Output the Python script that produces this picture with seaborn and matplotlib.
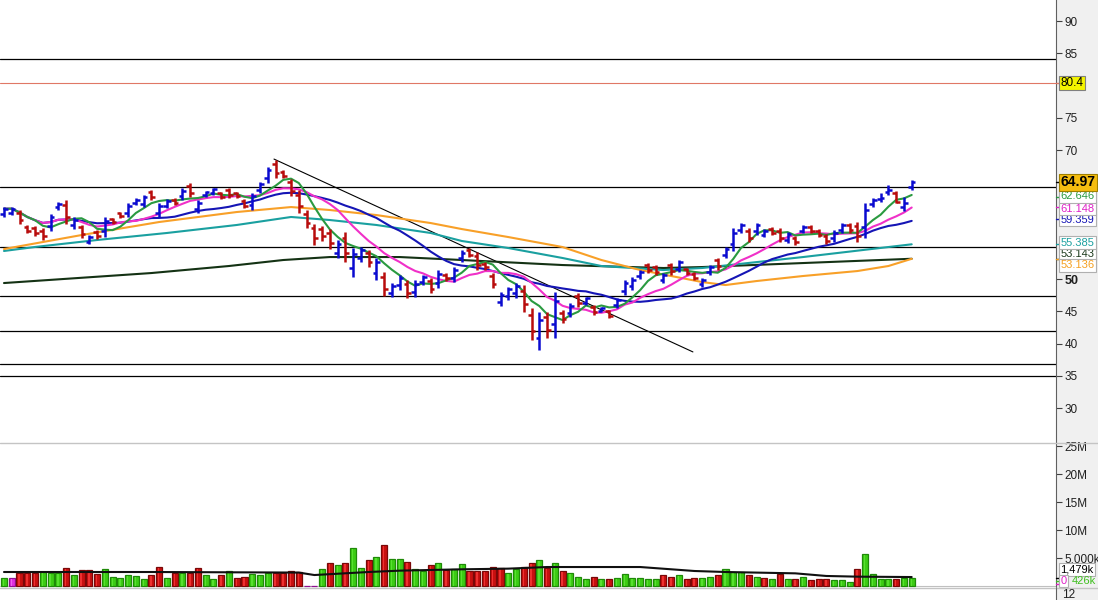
import numpy as np
import pandas as pd
import matplotlib
matplotlib.use("Agg")
import matplotlib.pyplot as plt
import seaborn as sns
from matplotlib.patches import Rectangle
from matplotlib.lines import Line2D

sns.set_style("white")
plt.rcParams['font.family'] = ['Liberation Sans', 'DejaVu Sans']

# ---------------- data ----------------
highs = [61.17, 61.17, 60.70, 58.38, 58.22, 57.91, 60.08, 61.94, 62.25, 59.62,
         58.38, 56.83, 57.60, 59.62, 59.46, 60.39, 61.79, 62.56, 63.03, 63.80,
         61.79, 62.41, 62.56, 64.11, 64.89, 62.25, 63.65, 64.11, 63.49, 64.11,
         63.49, 62.41, 63.34, 65.04, 67.37, 68.45, 66.90, 65.51, 63.80, 60.70,
         58.53, 58.22, 57.76, 56.05, 57.29, 54.81, 54.97, 54.50, 53.26, 51.09,
         49.38, 50.62, 49.85, 49.85, 50.62, 50.16, 51.40, 50.93, 51.86, 54.50,
         54.81, 54.19, 52.64, 50.93, 47.99, 48.76, 49.38, 49.07, 45.51, 44.89,
         44.89, 47.99, 45.20, 46.28, 47.83, 47.21, 45.97, 45.66, 45.20, 47.06,
         49.85, 50.31, 51.40, 52.48, 52.17, 50.93, 52.48, 52.95, 51.71, 51.09,
         50.16, 52.17, 53.26, 54.97, 57.91, 58.69, 57.91, 58.69, 57.76, 58.07,
         57.91, 57.29, 56.67, 58.38, 58.38, 57.76, 56.98, 57.60, 58.69, 58.69,
         58.84, 61.79, 62.56, 63.34, 64.58, 63.65, 62.72, 65.35]
lows = [59.62, 59.93, 58.53, 57.14, 56.67, 56.05, 57.45, 60.70, 58.53, 57.76,
        56.36, 55.43, 56.21, 56.52, 58.53, 59.46, 59.62, 61.48, 61.17, 62.25,
        59.62, 61.01, 61.48, 62.25, 62.72, 60.24, 62.72, 63.03, 62.41, 62.56,
        62.56, 61.01, 60.70, 63.34, 64.89, 65.66, 65.66, 62.87, 60.24, 57.91,
        55.28, 55.90, 54.66, 53.26, 52.64, 50.31, 52.64, 51.86, 49.85, 47.37,
        47.21, 48.30, 47.06, 47.21, 49.07, 47.83, 48.61, 49.69, 49.54, 52.64,
        53.41, 51.40, 51.40, 48.61, 45.82, 46.75, 47.06, 44.89, 40.55, 39.00,
        40.86, 40.86, 43.18, 44.11, 45.66, 45.97, 44.42, 44.89, 43.96, 45.51,
        47.52, 48.30, 50.00, 50.93, 50.62, 49.38, 50.62, 51.09, 50.62, 49.85,
        48.76, 50.62, 51.40, 53.26, 54.35, 57.14, 55.74, 56.83, 56.52, 56.83,
        55.74, 55.59, 55.28, 57.14, 57.14, 56.52, 55.43, 55.74, 57.14, 57.14,
        55.74, 56.36, 61.17, 61.94, 63.03, 61.79, 60.55, 63.80]
opens = [60.1, 60.3, 60.3, 58.1, 57.9, 57.5, 58.2, 61.1, 61.5, 58.3,
         58.0, 55.8, 57.3, 57.4, 59.3, 60.2, 60.3, 61.8, 61.7, 63.5,
         60.3, 61.4, 62.3, 62.8, 64.5, 60.8, 63.0, 63.4, 63.3, 63.8,
         63.3, 62.1, 61.5, 63.8, 65.6, 67.9, 66.6, 65.0, 63.1, 60.1,
         57.9, 57.8, 57.1, 54.1, 56.4, 51.7, 53.3, 54.0, 50.9, 50.3,
         47.9, 49.0, 49.3, 48.0, 49.5, 49.7, 49.4, 50.7, 50.2, 53.2,
         54.5, 53.6, 52.4, 50.5, 46.5, 47.4, 47.8, 48.2, 44.5, 40.8,
         44.1, 43.0, 44.8, 44.8, 47.4, 46.3, 45.7, 45.1, 45.0, 46.0,
         48.2, 48.9, 50.4, 52.2, 51.9, 49.8, 52.1, 51.6, 51.5, 50.8,
         49.2, 51.1, 52.9, 53.8, 55.4, 57.6, 57.5, 57.4, 56.9, 57.8,
         57.5, 56.1, 56.4, 57.5, 58.1, 57.5, 56.7, 56.3, 57.6, 58.4,
         58.2, 58.0, 61.6, 62.4, 63.5, 63.3, 61.2, 64.3]
closes = [60.9, 60.9, 59.2, 57.5, 57.1, 56.6, 59.6, 61.7, 59.6, 59.2,
          57.0, 56.5, 56.6, 59.0, 58.8, 59.7, 61.4, 62.3, 62.7, 62.7,
          61.4, 62.1, 61.8, 63.7, 63.4, 61.8, 63.5, 63.9, 62.7, 63.0,
          62.8, 61.4, 62.8, 64.7, 66.9, 66.5, 66.0, 63.7, 61.3, 58.7,
          56.3, 56.6, 55.6, 55.5, 54.0, 53.9, 54.5, 52.7, 52.6, 48.5,
          48.9, 50.2, 47.9, 49.3, 50.3, 48.5, 50.8, 50.1, 51.4, 54.1,
          53.8, 52.2, 51.8, 49.3, 47.6, 48.4, 48.9, 46.1, 42.0, 43.7,
          42.1, 46.6, 43.8, 45.8, 46.3, 47.0, 44.9, 45.5, 44.3, 46.7,
          49.4, 49.9, 51.1, 51.4, 51.1, 50.6, 51.2, 52.6, 50.9, 50.2,
          49.9, 51.9, 52.0, 54.6, 57.2, 58.4, 56.4, 58.3, 57.5, 57.2,
          56.4, 57.0, 55.7, 58.1, 57.5, 56.9, 55.9, 57.2, 58.4, 57.6,
          56.7, 60.7, 62.3, 62.6, 63.8, 62.0, 61.8, 64.97]

# volume in millions; u = up, d = down, n = unchanged
volume_m = [1.48, 1.48, 2.38, 2.38, 2.38, 2.55, 2.38, 2.38, 3.16, 1.91,
            2.80, 2.80, 2.09, 2.98, 1.66, 1.48, 1.91, 1.73, 1.30, 1.91,
            3.45, 1.48, 2.38, 2.27, 2.38, 3.27, 1.91, 1.20, 1.91, 2.73,
            1.48, 1.66, 2.09, 1.91, 2.38, 2.27, 2.27, 2.73, 2.55, 0.0,
            0.0, 2.98, 4.16, 3.70, 4.16, 6.84, 3.27, 4.59, 5.23, 7.27,
            4.77, 4.88, 4.34, 3.09, 2.68, 3.70, 4.16, 2.80, 2.98, 3.88,
            2.68, 2.68, 2.68, 3.45, 3.27, 2.27, 3.09, 3.45, 4.05, 4.59,
            3.27, 4.16, 2.73, 2.38, 1.66, 1.30, 1.66, 1.20, 1.30, 1.48,
            2.20, 1.38, 1.48, 1.20, 1.20, 1.91, 1.66, 1.91, 1.30, 1.48,
            1.48, 1.66, 1.91, 2.98, 2.55, 2.55, 1.91, 1.66, 1.48, 1.20,
            2.20, 1.30, 1.30, 1.66, 1.02, 1.20, 1.30, 1.02, 1.02, 0.77,
            2.98, 5.66, 2.09, 1.20, 1.30, 1.30, 1.48, 1.48]
volume_dir = list("unddduuudu" "ddduuuuuud" "dududduudu" "dduuuddddn"
                  "nududuudud" "uuduududuu" "ddddduuddu" "duduuududu"
                  "uuuuuddudd" "uuduuududu" "dududdduuu" "duuuuduu")

# long moving averages read at selected bars
ma50_idx = [0, 10, 20, 30, 37, 42, 48, 55, 59, 65, 72, 77, 82, 86, 90, 93, 97, 103, 110, 114, 117]
ma50_val = [54.65, 56.82, 58.84, 60.39, 61.16, 60.70, 59.92, 58.68, 57.75, 56.51,
            54.96, 52.95, 51.40, 50.47, 49.53, 49.07, 49.69, 50.47, 51.24, 52.02, 53.136]
ma100_idx = [0, 4, 12, 21, 30, 37, 42, 48, 55, 59, 65, 72, 77, 85, 90, 103, 117]
ma100_val = [54.35, 54.97, 56.05, 57.14, 58.38, 59.62, 59.15, 58.38, 57.14, 55.90,
             54.81, 53.26, 52.02, 51.40, 51.71, 53.41, 55.385]
ma200_idx = [0, 19, 29, 36, 42, 51, 59, 72, 85, 90, 103, 117]
ma200_val = [49.38, 50.93, 52.02, 52.95, 53.41, 53.41, 52.95, 52.17, 51.71, 51.86,
             52.48, 53.143]
vol_ma_idx = [0, 19, 38, 40, 47, 51, 59, 65, 70, 82, 89, 93, 102, 106, 110, 117]
vol_ma_val = [2.50, 2.50, 2.40, 1.96, 2.50, 2.74, 2.98, 3.10, 3.39, 3.39, 2.68, 2.50,
              2.26, 1.79, 1.67, 1.60]

level_prices = [84.1, 64.26, 54.96, 47.37, 41.94, 36.9, 34.96]
alert_price = 80.4
trend_x = [34.8, 88.8]
trend_y = [68.6, 38.7]

price_ticks = [30, 35, 40, 45, 50, 70, 75, 85, 90]
vol_ticks = [5, 10, 15, 20, 25]
vol_tick_labels = ["5,000k", "10M", "15M", "20M", "25M"]

last_price = "64.97"
# label text, colour, vertical nudge in pixels (positive = up) to keep labels apart
ma_tags = [("53.143", "#1b3a1b", 5.0), ("53.136", "#f5a020", -6.4),
           ("55.385", "#1aa0a0", 1.7), ("59.359", "#1515b5", -1.4),
           ("61.148", "#e020c8", -1.4), ("62.646", "#2a9a40", 1.0)]

# ---------------- figure ----------------
W, H = 1098, 600
fig = plt.figure(figsize=(W / 100, H / 100), dpi=100)
fig.patch.set_facecolor("white")
fig.patches.append(Rectangle((1056 / W, 0), 42 / W, 1, transform=fig.transFigure,
                             fc="#f0f0f0", ec="none", zorder=-1))

ax = fig.add_axes([0, 1 - 443 / H, 1056 / W, 443 / H])
axv = fig.add_axes([0, 12 / H, 1056 / W, 145 / H])

idx = np.arange(len(closes))
o = np.array(opens); c = np.array(closes); h = np.array(highs); l = np.array(lows)
cols = np.where(c >= o, "#0a0ad0", "#b80c0c")

xmin, xmax = -0.515, 135.6
for a in (ax, axv):
    a.set_xlim(xmin, xmax)
    a.set_xticks([])
    a.set_facecolor("white")
    for s in ("top", "left", "bottom"):
        a.spines[s].set_visible(False)
    a.spines["right"].set_color("#606060")
    a.spines["right"].set_linewidth(0.8)
    a.yaxis.tick_right()
    a.tick_params(axis="y", direction="out", length=4, width=0.8, colors="#404040",
                  labelsize=8.5, pad=2, labelcolor="#202020")

ax.set_ylim(24.58, 93.26)

# horizontal levels
for lv in level_prices:
    ax.axhline(lv, color="black", lw=0.9, zorder=1)
ax.axhline(alert_price, color="#e07866", lw=0.8, zorder=1)
ax.plot(trend_x, trend_y, color="black", lw=0.8, zorder=2)

# moving averages
s = pd.Series(closes)
ma5 = s.rolling(5, min_periods=1).mean()
ma10 = s.rolling(10, min_periods=1).mean()
ma20 = s.rolling(20, min_periods=1).mean()
lw_ma = 1.5
sns.lineplot(x=ma200_idx, y=ma200_val, ax=ax, color="#143214", lw=lw_ma, zorder=3)
sns.lineplot(x=ma100_idx, y=ma100_val, ax=ax, color="#1aa0a0", lw=lw_ma, zorder=3)
sns.lineplot(x=ma50_idx, y=ma50_val, ax=ax, color="#f8a028", lw=lw_ma, zorder=3)
sns.lineplot(x=idx, y=ma20.values, ax=ax, color="#1515b5", lw=lw_ma, zorder=3)
sns.lineplot(x=idx, y=ma10.values, ax=ax, color="#f030c8", lw=lw_ma, zorder=3)
sns.lineplot(x=idx, y=ma5.values, ax=ax, color="#2a9a40", lw=lw_ma, zorder=3)

# OHLC bars
blw = 1.8
ax.vlines(idx, l, h, colors=cols, lw=blw, zorder=5)
ax.hlines(o, idx - 0.48, idx, colors=cols, lw=blw, zorder=5)
ax.hlines(c, idx, idx + 0.48, colors=cols, lw=blw, zorder=5)

ax.set_yticks(price_ticks)
ax.set_yticklabels([str(t) for t in price_ticks])
for t in ax.get_yticklabels():
    if t.get_text() == "50":
        t.set_fontweight("bold")
        t.set_fontsize(9)
ax.set_ylabel("")

def tag(axis, y, text, tc, fc="white", ec="#b0b0b0", weight="normal", size=8,
        tickc=None, dy=0.0):
    axis.plot([1.0, 1.0 + 4 / 1056], [y, y], color=tickc or tc, lw=1.0,
              transform=axis.get_yaxis_transform(), clip_on=False, zorder=6)
    axis.annotate(text, xy=(1.0, y), xycoords=("axes fraction", "data"),
                  xytext=(3.2, dy * 0.72), textcoords="offset points", ha="left",
                  va="center", fontsize=size, color=tc, fontweight=weight,
                  bbox=dict(boxstyle="square,pad=0.12", fc=fc, ec=ec, lw=0.8),
                  annotation_clip=False, zorder=7)

tag(ax, alert_price, "80.4", "black", fc="#f4f400", ec="#808080", tickc="#e07866",
    size=8.5)
for txt, colr, dy in ma_tags:
    tag(ax, float(txt), txt, colr, dy=dy)
tag(ax, float(last_price), last_price, "black", fc="#f5bd10", ec="#a08000",
    weight="bold", size=10)

# volume pane
vcol = {"u": "#3ccc14", "d": "#c81010", "n": "#e030e0"}
vedge = {"u": "#1f8a08", "d": "#7a0808", "n": "#901090"}
vhi = {"u": "#58e030", "d": "#ee3030", "n": "#f060f0"}
vols = np.array(volume_m)
fc = [vcol[d] for d in volume_dir]
ec = [vedge[d] for d in volume_dir]
hc = [vhi[d] for d in volume_dir]
axv.bar(idx, vols, width=0.78, color=fc, edgecolor=ec, linewidth=0.9, zorder=2)
axv.bar(idx - 0.05, np.maximum(vols - 0.15, 0), width=0.18, color=hc,
        linewidth=0, zorder=3)
sns.lineplot(x=vol_ma_idx, y=vol_ma_val, ax=axv, color="#101010", lw=1.5, zorder=4)
axv.set_ylim(-0.357, 25.54)
axv.set_yticks(vol_ticks)
axv.set_yticklabels(vol_tick_labels)
axv.set_ylabel("")
axv.axhline(0, color="#c0c0c0", lw=0.8, zorder=1)

tag(axv, 1.479, "1,479k", "black", dy=8.0)
tag(axv, 0.426, "0", "#e020c8", tickc="#e020c8", dy=2.5)
axv.annotate("426k", xy=(1.0, 0.426), xycoords=("axes fraction", "data"),
             xytext=(11, 2.5 * 0.72), textcoords="offset points", ha="left",
             va="center", fontsize=8, color="#40c020", annotation_clip=False, zorder=7)
axv.plot([1.0, 1.0 + 4 / 1056], [0.9, 0.9], color="#40c020", lw=1.0,
         transform=axv.get_yaxis_transform(), clip_on=False, zorder=6)

# pane separators and bottom strip
for yy in (443, 588):
    fig.add_artist(Line2D([0, 1], [1 - yy / H] * 2, transform=fig.transFigure,
                          color="#c4c4c4", lw=1.0))
fig.add_artist(Line2D([1056 / W, 1056 / W], [0, 12 / H], transform=fig.transFigure,
                      color="#606060", lw=0.8))
fig.text(1062 / W, 1 - 594.5 / H, "12", fontsize=8.5, va="center", ha="left",
         color="#202020")

fig.savefig("out.png", dpi=100)
